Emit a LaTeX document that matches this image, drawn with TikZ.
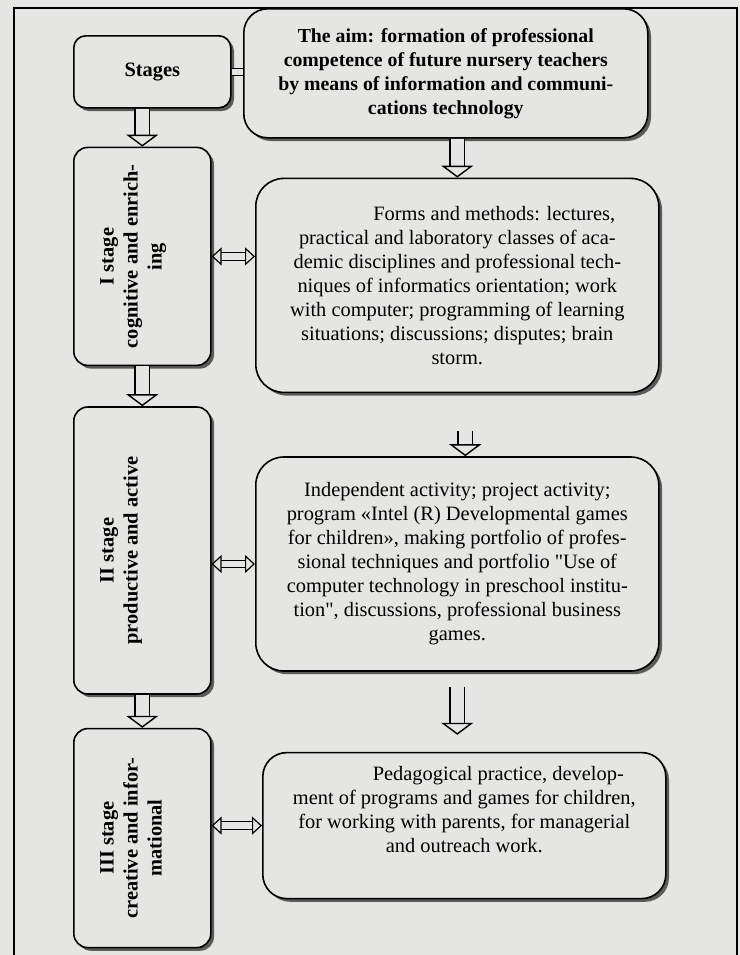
\documentclass[tikz,border=0pt]{standalone}
\usepackage{fontspec}
\setmainfont{Liberation Serif}
\usepackage{graphicx}
\usepackage{tikz}
\usetikzlibrary{arrows.meta,positioning,shadows}
\definecolor{paper}{RGB}{229,229,226}
\newcommand\sidetext[1]{\rotatebox{90}{\begin{tabular}{@{}c@{}}#1\end{tabular}}\hspace*{9.5pt}}

\begin{document}
\begin{tikzpicture}[x=1pt,y=1pt,font=\fontsize{10.2}{12}\selectfont,
  box/.style={draw,line width=.8pt,rounded corners=12pt,fill=paper,align=center,inner sep=2pt,
    drop shadow={shadow xshift=1.6pt,shadow yshift=-1.6pt,fill=black,opacity=.6}},
  stagebox/.style={box,rounded corners=7pt,minimum width=68.5pt,font=\fontsize{10.2}{12}\selectfont\bfseries},
  hollow/.style={double=paper,double distance=6.5pt,line width=.7pt,-{Triangle[open,fill=paper,width=16pt,length=6pt,line width=.7pt]}},
  twoway/.style={double=paper,double distance=3.2pt,line width=.6pt,{Triangle[open,fill=paper,width=9pt,length=5pt,line width=.6pt]}-{Triangle[open,fill=paper,width=9pt,length=5pt,line width=.6pt]}}]
\fill[paper] (0,0) rectangle (370,-477.5);
\useasboundingbox (0,0) rectangle (370,-477.5);
% frame, open at the bottom
\draw[line width=.7pt] (7,-477.5) |- (368.5,-4) -- (368.5,-477.5);
% left column: stages
\node[box,rounded corners=6pt,minimum width=78.5pt,minimum height=36pt,font=\fontsize{10.2}{12}\selectfont\bfseries,anchor=north west] (stages) at (36.5,-17.5) {Stages};
\node[stagebox,minimum height=109pt,below=19pt of stages.south west,anchor=north west] (stage1) {\sidetext{I stage\\cognitive and enrich-\\ing}};
\node[stagebox,minimum height=143.5pt,below=20pt of stage1.south west,anchor=north west] (stage2) {\sidetext{II stage\\productive and active\\ \mbox{}}};
\node[stagebox,minimum height=109.5pt,below=16.5pt of stage2.south west,anchor=north west] (stage3) {\sidetext{III stage\\creative and infor-\\mational}};
% right column: aim and contents
\node[box,minimum width=202pt,minimum height=64.5pt,font=\fontsize{9.9}{12}\selectfont\bfseries,anchor=north west] (aim) at (121.5,-4) {The aim: formation of professional\\competence of future nursery teachers\\by means of information and communi-\\cations technology};
\node[box,rounded corners=14pt,minimum width=201.5pt,minimum height=107pt,below=19.5pt of aim.south west,anchor=north west,xshift=6pt] (forms) {\hspace*{37pt}Forms and methods: lectures,\\practical and laboratory classes of aca-\\demic disciplines and professional tech-\\niques of informatics orientation; work\\with computer; programming of learning\\situations; discussions; disputes; brain\\storm.};
\node[box,rounded corners=14pt,minimum width=201.5pt,minimum height=107pt,below=31.5pt of forms] (indep) {Independent activity; project activity;\\program «Intel (R) Developmental games\\for children», making portfolio of profes-\\sional techniques and portfolio \textquotedbl Use of\\computer technology in preschool institu-\\tion\textquotedbl, discussions, professional business\\games.};
\node[box,minimum width=201.5pt,minimum height=73pt,below=40pt of indep.south west,anchor=north west,xshift=3.5pt] (pedag) {\hspace*{34pt}Pedagogical practice, develop-\\ment of programs and games for children,\\for working with parents, for managerial\\and outreach work.\\[4pt]};
% connectors
\draw[double=paper,double distance=3pt,line width=.6pt] (stages.east) -- (stages.east -| aim.west);
\draw[hollow] (stage1.north |- stages.south) -- (stage1.north);
\draw[hollow] (stage1.south) -- (stage2.north);
\draw[hollow] (stage2.south) -- (stage2.south |- stage3.north);
\draw[hollow] (aim.south -| forms.north) -- (forms.north);
\draw[hollow,shorten <=19pt] ([xshift=4pt]forms.south) -- ([xshift=4pt]indep.north);
\draw[hollow,shorten <=7.5pt,shorten >=8.5pt] (indep.south) -- (indep.south |- pedag.north);
\draw[twoway] (stage1.east) -- (stage1.east -| forms.west);
\draw[twoway] (stage2.east |- indep.west) -- (indep.west);
\draw[twoway] (stage3.east |- pedag.west) -- (pedag.west);
\end{tikzpicture}
\end{document}
